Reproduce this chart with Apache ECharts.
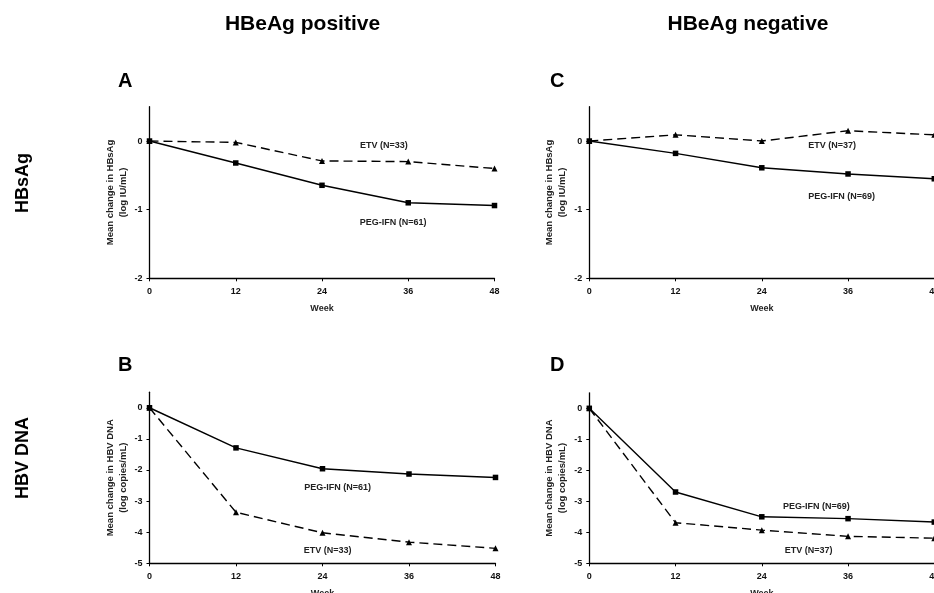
<!DOCTYPE html>
<html>
<head>
<meta charset="utf-8">
<script src="https://cdn.jsdelivr.net/npm/echarts@6/dist/echarts.min.js"></script>
<style>
  html, body { margin: 0; padding: 0; background: #fff; }
  #plot { width: 934px; height: 593px; }
</style>
</head>
<body>
<div id="plot"></div>
<script>
const weeks = [0, 12, 24, 36, 48];

// HBsAg, mean change (log IU/mL)
const hbsagPosPeg = [0, -0.32, -0.645, -0.90, -0.94];
const hbsagPosEtv = [0, -0.02, -0.29, -0.30, -0.40];
const hbsagNegPeg = [0, -0.18, -0.39, -0.48, -0.55];
const hbsagNegEtv = [0, 0.09, 0.0, 0.15, 0.09];

// HBV DNA, mean change (log copies/mL)
const dnaPosPeg = [0, -1.29, -1.96, -2.13, -2.24];
const dnaPosEtv = [0, -3.36, -4.02, -4.32, -4.52];
const dnaNegPeg = [0, -2.70, -3.50, -3.56, -3.67];
const dnaNegEtv = [0, -3.69, -3.93, -4.13, -4.19];

const hbsagTicks = [-2, -1, 0];
const dnaTicks = [-5, -4, -3, -2, -1, 0];

// series name labels, placed in data coords [week, value]
const labelsA = [['ETV (N=33)', 32.6, -0.06], ['PEG-IFN (N=61)', 33.9, -1.19]];
const labelsC = [['ETV (N=37)', 33.8, -0.06], ['PEG-IFN (N=69)', 35.1, -0.815]];
const labelsB = [['PEG-IFN (N=61)', 26.1, -2.57], ['ETV (N=33)', 24.7, -4.6]];
const labelsD = [['PEG-IFN (N=69)', 31.6, -3.17], ['ETV (N=37)', 30.5, -4.59]];

const FONT = 'Arial, "Liberation Sans", Helvetica, sans-serif';

function drawPlot() {
    const chart = echarts.init(document.getElementById('plot'), null, { renderer: 'canvas' });

    const grids = [
        { left: 149.5, top: 106.7, width: 345, height: 171.6 }, // A
        { left: 589.3, top: 106.7, width: 345, height: 171.6 }, // C
        { left: 149.5, top: 392.2, width: 346, height: 171.1 }, // B
        { left: 589.3, top: 392.8, width: 345, height: 170.5 }  // D
    ].map(g => Object.assign({ outerBoundsMode: 'none', containLabel: false }, g));

    const xAxes = grids.map((g, i) => ({
        type: 'value',
        gridIndex: i,
        min: 0,
        max: 48,
        interval: 12,
        name: 'Week',
        nameLocation: 'middle',
        nameGap: 26,
        nameTextStyle: { fontFamily: FONT, fontWeight: 'bold', fontSize: 9, color: '#222' },
        axisLine: { onZero: false, lineStyle: { color: '#000', width: 1.3 } },
        axisTick: { length: 3, lineStyle: { color: '#000' } },
        axisLabel: { fontFamily: FONT, fontWeight: 'bold', fontSize: 9, color: '#111', margin: 9 },
        splitLine: { show: false }
    }));

    const yNames = [
        'Mean change in HBsAg\n(log IU/mL)',
        'Mean change in HBsAg\n(log IU/mL)',
        'Mean change in HBV DNA\n(log copies/mL)',
        'Mean change in HBV DNA\n(log copies/mL)'
    ];

    const yAxes = grids.map((g, i) => {
        const ticks = i < 2 ? hbsagTicks : dnaTicks;
        return {
            type: 'value',
            gridIndex: i,
            min: ticks[0],
            max: 0.5,
            name: yNames[i],
            nameLocation: 'middle',
            nameRotate: 90,
            nameGap: 20,
            nameTextStyle: { fontFamily: FONT, fontWeight: 'bold', fontSize: 9.5, color: '#222', lineHeight: 13 },
            axisLine: { onZero: false, lineStyle: { color: '#000', width: 1.3 } },
            axisTick: { length: 3, customValues: ticks, lineStyle: { color: '#000' } },
            axisLabel: { customValues: ticks, fontFamily: FONT, fontWeight: 'bold', fontSize: 9, color: '#111', margin: 7 },
            splitLine: { show: false }
        };
    });

    function nameMarks(list) {
        return {
            symbol: 'circle',
            symbolSize: 1,
            silent: true,
            itemStyle: { color: 'rgba(0,0,0,0)' },
            label: {
                show: true,
                position: 'inside',
                fontFamily: FONT,
                fontWeight: 'bold',
                fontSize: 9,
                color: '#222',
                formatter: p => p.name
            },
            data: list.map(l => ({ name: l[0], coord: [l[1], l[2]] }))
        };
    }

    function pegSeries(values, idx, labels) {
        return {
            type: 'line',
            xAxisIndex: idx,
            yAxisIndex: idx,
            data: weeks.map((w, k) => [w, values[k]]),
            symbol: 'rect',
            symbolSize: 5.5,
            showAllSymbol: true,
            itemStyle: { color: '#000' },
            lineStyle: { color: '#000', width: 1.4 },
            markPoint: nameMarks(labels),
            animation: false,
            z: 3
        };
    }

    function etvSeries(values, idx) {
        return {
            type: 'line',
            xAxisIndex: idx,
            yAxisIndex: idx,
            data: weeks.map((w, k) => [w, values[k]]),
            symbol: 'triangle',
            symbolSize: 6,
            showAllSymbol: true,
            itemStyle: { color: '#000' },
            lineStyle: { color: '#000', width: 1.4, type: [9, 5] },
            animation: false,
            z: 2
        };
    }

    const bold = (extra) => Object.assign({ fontFamily: FONT, fontWeight: 'bold', fill: '#000' }, extra);

    const option = {
        backgroundColor: '#fff',
        animation: false,
        grid: grids,
        xAxis: xAxes,
        yAxis: yAxes,
        series: [
            pegSeries(hbsagPosPeg, 0, labelsA),
            etvSeries(hbsagPosEtv, 0),
            pegSeries(hbsagNegPeg, 1, labelsC),
            etvSeries(hbsagNegEtv, 1),
            pegSeries(dnaPosPeg, 2, labelsB),
            etvSeries(dnaPosEtv, 2),
            pegSeries(dnaNegPeg, 3, labelsD),
            etvSeries(dnaNegEtv, 3)
        ],
        graphic: [
            { type: 'text', x: 302.5, y: 24, style: bold({ text: 'HBeAg positive', fontSize: 21, textAlign: 'center', textVerticalAlign: 'middle' }) },
            { type: 'text', x: 748, y: 24, style: bold({ text: 'HBeAg negative', fontSize: 21, textAlign: 'center', textVerticalAlign: 'middle' }) },
            { type: 'text', x: 23, y: 183, rotation: Math.PI / 2, style: bold({ text: 'HBsAg', fontSize: 18, textAlign: 'center', textVerticalAlign: 'middle' }) },
            { type: 'text', x: 23, y: 458, rotation: Math.PI / 2, style: bold({ text: 'HBV DNA', fontSize: 18, textAlign: 'center', textVerticalAlign: 'middle' }) },
            { type: 'text', x: 118, y: 81, style: bold({ text: 'A', fontSize: 20, textVerticalAlign: 'middle' }) },
            { type: 'text', x: 550, y: 81, style: bold({ text: 'C', fontSize: 20, textVerticalAlign: 'middle' }) },
            { type: 'text', x: 118, y: 365, style: bold({ text: 'B', fontSize: 20, textVerticalAlign: 'middle' }) },
            { type: 'text', x: 550, y: 365, style: bold({ text: 'D', fontSize: 20, textVerticalAlign: 'middle' }) }
        ]
    };

    chart.setOption(option);
    window.addEventListener('resize', () => chart.resize());
}

drawPlot();
</script>
</body>
</html>
